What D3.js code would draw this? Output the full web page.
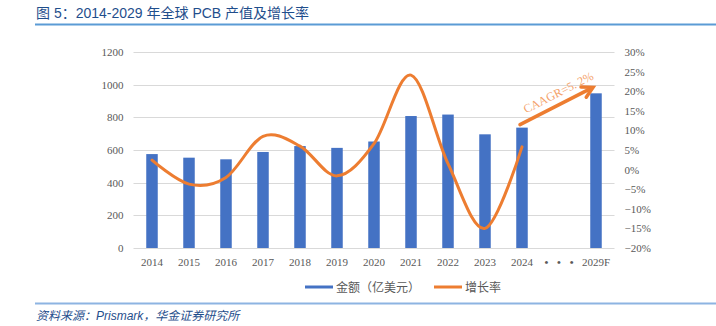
<!DOCTYPE html>
<html><head><meta charset="utf-8">
<script src="https://cdn.jsdelivr.net/npm/d3@7"></script>
<style>
body{margin:0;background:#fff;}
svg{display:block;}
</style></head>
<body>
<svg id="c" width="716" height="326"></svg>
<script>
const categories = ["2014","2015","2016","2017","2018","2019","2020","2021","2022","2023","2024","• • •","2029F"];
const amounts = [575, 553, 543, 588, 624, 613, 652, 808, 817, 696, 737, null, 947];
const growth = [2.4, -3.7, -2.0, 8.5, 6.0, -1.6, 6.6, 24.1, 1.5, -15.0, 5.8, null, null];
const leftTicks = [0, 200, 400, 600, 800, 1000, 1200];
const rightTicks = [-20, -15, -10, -5, 0, 5, 10, 15, 20, 25, 30];
const title = "图 5：2014-2029 年全球 PCB 产值及增长率";
const source = "资料来源：Prismark，华金证券研究所";
const legendLabels = ["金额（亿美元）", "增长率"];
const cagrLabel = "CAAGR=5. 2%";

const svg = d3.select("#c");
const L = 133.5, R = 614.5, T = 52, B = 248;
const serif = "'Liberation Serif','DejaVu Serif',serif";
const sans = "'Liberation Sans','Noto Sans CJK SC',sans-serif";

const x = d3.scaleBand().domain(categories).range([L, R]).padding(0);
const y = d3.scaleLinear().domain([0, 1200]).range([B, T]);
const y2 = d3.scaleLinear().domain([-20, 30]).range([B, T]);

// title
svg.append("text").attr("x", 36).attr("y", 18).attr("font-family", sans)
  .attr("font-size", 14).attr("fill", "#1F4E8C").text(title);
svg.append("line").attr("x1", 35).attr("x2", 716).attr("y1", 24.5).attr("y2", 24.5)
  .attr("stroke", "#5B9BD5").attr("stroke-width", 2);

// gridlines
svg.append("g").selectAll("line").data(leftTicks).join("line")
  .attr("x1", L).attr("x2", R).attr("y1", d => Math.round(y(d)) + 0.5).attr("y2", d => Math.round(y(d)) + 0.5)
  .attr("stroke", "#D9D9D9").attr("stroke-width", 1);

// left axis
const ga = svg.append("g").attr("transform", `translate(${L},0)`)
  .call(d3.axisLeft(y).tickValues(leftTicks).tickSize(0).tickPadding(10).tickFormat(d => String(d)));
ga.select(".domain").remove();
ga.selectAll("text").attr("font-family", serif).attr("font-size", 11).attr("fill", "#595959");

// right axis
const gr = svg.append("g").attr("transform", `translate(${R},0)`)
  .call(d3.axisRight(y2).tickValues(rightTicks).tickSize(0).tickPadding(10)
    .tickFormat(d => (d < 0 ? "\u2212" + Math.abs(d) : d) + "%"));
gr.select(".domain").remove();
gr.selectAll("text").attr("font-family", serif).attr("font-size", 11).attr("fill", "#595959");

// bottom axis
const gb = svg.append("g").attr("transform", `translate(0,${B})`)
  .call(d3.axisBottom(x).tickSize(0).tickPadding(10));
gb.select(".domain").remove();
gb.selectAll("text").attr("font-family", serif).attr("font-size", 11).attr("fill", "#595959")
  .attr("font-weight", d => d === "• • •" ? "bold" : null)
  .attr("word-spacing", d => d === "• • •" ? "6px" : null);

// bars
const bw = 11.5;
svg.append("g").selectAll("rect").data(categories.map((c, i) => ({c, v: amounts[i]})).filter(d => d.v != null))
  .join("rect")
  .attr("x", d => x(d.c) + x.bandwidth() / 2 - bw / 2)
  .attr("width", bw)
  .attr("y", d => y(d.v))
  .attr("height", d => y(0) - y(d.v))
  .attr("fill", "#4472C4");

// growth line
const gdata = categories.map((c, i) => ({c, v: growth[i]})).filter(d => d.v != null);
svg.append("path").datum(gdata)
  .attr("d", d3.line().x(d => x(d.c) + x.bandwidth() / 2).y(d => y2(d.v)).curve(d3.curveCardinal.tension(0)))
  .attr("fill", "none").attr("stroke", "#ED7D31").attr("stroke-width", 3).attr("stroke-linecap", "round");

// CAGR arrow
const i24 = categories.indexOf("2024"), iF = categories.indexOf("2029F");
const ax1 = x(categories[i24]) + x.bandwidth() / 2 - 2, ay1 = y(amounts[i24]) - 3;
const ax2 = x(categories[iF]) + x.bandwidth() / 2 - 3, ay2 = y(amounts[iF]) - 6;
svg.append("line").attr("x1", ax1).attr("y1", ay1).attr("x2", ax2 - 3).attr("y2", ay2 + 1.5)
  .attr("stroke", "#ED7D31").attr("stroke-width", 3.5).attr("stroke-linecap", "round");
const ang = Math.atan2(ay2 - ay1, ax2 - ax1);
const hl = 12, ha = 0.5;
const p1 = [ax2 - hl * Math.cos(ang - ha), ay2 - hl * Math.sin(ang - ha)];
const p2 = [ax2 - hl * Math.cos(ang + ha), ay2 - hl * Math.sin(ang + ha)];
svg.append("path").attr("d", `M${p1[0]},${p1[1]}L${ax2},${ay2}L${p2[0]},${p2[1]}`)
  .attr("fill", "none").attr("stroke", "#ED7D31").attr("stroke-width", 3.5)
  .attr("stroke-linejoin", "miter").attr("stroke-linecap", "round");
const deg = ang * 180 / Math.PI;
svg.append("text").attr("transform", `translate(${ax1 + 6},${ay1 - 11}) rotate(${deg})`)
  .attr("font-family", serif).attr("font-size", 12).attr("fill", "#F4A26A").text(cagrLabel);

// legend
const lg = svg.append("g").attr("font-family", sans).attr("font-size", 12).attr("fill", "#595959");
lg.append("line").attr("x1", 305).attr("x2", 333).attr("y1", 287).attr("y2", 287).attr("stroke", "#4472C4").attr("stroke-width", 3);
lg.append("text").attr("x", 336).attr("y", 291.5).text(legendLabels[0]);
lg.append("line").attr("x1", 434).attr("x2", 462).attr("y1", 287).attr("y2", 287).attr("stroke", "#ED7D31").attr("stroke-width", 3);
lg.append("text").attr("x", 465).attr("y", 291.5).text(legendLabels[1]);

// footer
svg.append("line").attr("x1", 35).attr("x2", 716).attr("y1", 303.5).attr("y2", 303.5)
  .attr("stroke", "#8DB4E2").attr("stroke-width", 2);
svg.append("text").attr("x", 36).attr("y", 320).attr("font-family", sans).attr("font-style", "italic")
  .attr("font-size", 12).attr("fill", "#1F4E8C").text(source);
</script>
</body></html>
